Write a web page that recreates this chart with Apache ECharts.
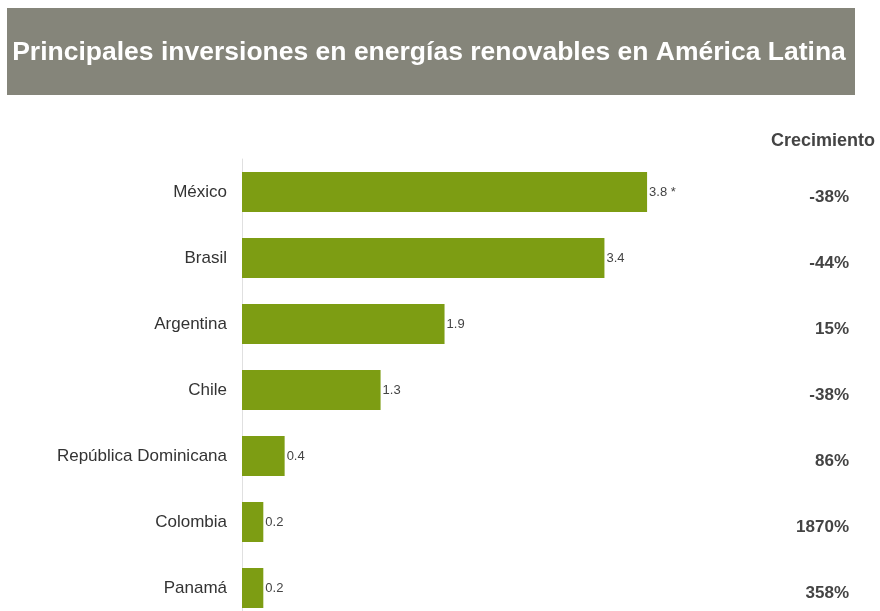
<!DOCTYPE html>
<html>
<head>
<meta charset="utf-8">
<script src="https://cdn.jsdelivr.net/npm/echarts@6/dist/echarts.min.js"></script>
<style>
  html, body { margin: 0; padding: 0; background: #fff; }
  #main { width: 880px; height: 611px; }
</style>
</head>
<body>
<div id="main"></div>
<script>
// datos
var paises = ['México', 'Brasil', 'Argentina', 'Chile', 'República Dominicana', 'Colombia', 'Panamá'];
var inversion = [3.8, 3.4, 1.9, 1.3, 0.4, 0.2, 0.2];
var etiquetas = ['3.8 *', '3.4', '1.9', '1.3', '0.4', '0.2', '0.2'];
var crecimiento = ['-38%', '-44%', '15%', '-38%', '86%', '1870%', '358%'];

var myChart = echarts.init(document.getElementById('main'));

var option = {
    backgroundColor: '#fff',
    animation: false,
    // caja del título
    graphic: [
        {
            type: 'rect',
            shape: { x: 7, y: 8, width: 848, height: 87 },
            style: { fill: '#85857a' }
        },
        {
            type: 'text',
            x: 429, y: 53,
            style: {
                text: 'Principales inversiones en energías renovables en América Latina',
                fill: '#fff',
                font: 'bold 26.5px "Liberation Sans", Arial, sans-serif',
                align: 'center',
                verticalAlign: 'middle'
            }
        },
        {
            type: 'text',
            x: 823, y: 141,
            style: {
                text: 'Crecimiento',
                fill: '#444',
                font: 'bold 18px "Liberation Sans", Arial, sans-serif',
                align: 'center',
                verticalAlign: 'middle'
            }
        }
    ],
    grid: {
        left: 242,
        right: 105,
        top: 159,
        height: 462,
        outerBoundsMode: 'none'
    },
    xAxis: {
        type: 'value',
        min: 0,
        max: 5,
        show: false
    },
    yAxis: [
        {
            type: 'category',
            inverse: true,
            data: paises,
            axisLine: { show: true, lineStyle: { color: '#e0e0e0', width: 1 } },
            axisTick: { show: false },
            axisLabel: {
                color: '#333',
                fontSize: 17,
                fontFamily: '"Liberation Sans", Arial, sans-serif',
                margin: 15
            }
        },
        {
            type: 'category',
            inverse: true,
            position: 'right',
            data: crecimiento,
            axisLine: { show: false },
            axisTick: { show: false },
            axisLabel: {
                color: '#444',
                fontSize: 17,
                fontWeight: 'bold',
                fontFamily: '"Liberation Sans", Arial, sans-serif',
                align: 'right',
                verticalAlign: 'top',
                lineHeight: 10,
                margin: 74
            }
        }
    ],
    series: [
        {
            type: 'bar',
            data: inversion,
            barWidth: 40,
            itemStyle: { color: '#7d9d13' },
            label: {
                show: true,
                position: 'right',
                distance: 2,
                color: '#444',
                fontSize: 13,
                fontFamily: '"Liberation Sans", Arial, sans-serif',
                formatter: function (p) { return etiquetas[p.dataIndex]; }
            }
        }
    ]
};

myChart.setOption(option, true);
</script>
</body>
</html>
